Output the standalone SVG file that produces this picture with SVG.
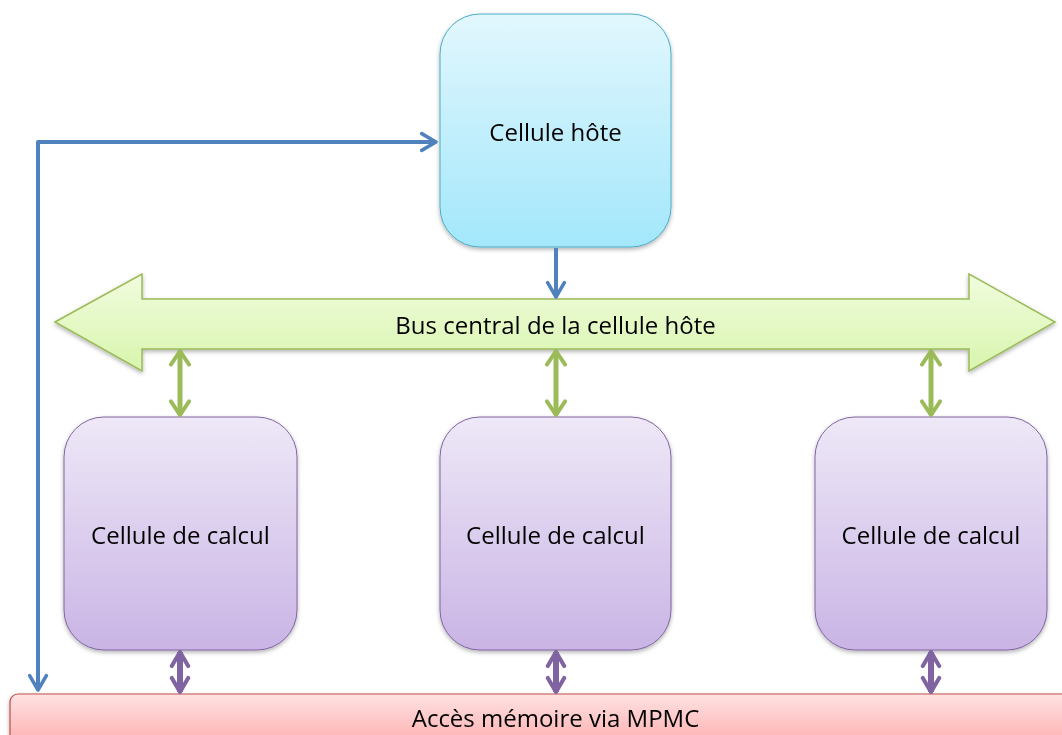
<svg xmlns="http://www.w3.org/2000/svg" width="1062" height="735" viewBox="0 0 1062 735">
<style>
text{font-family:"Open Sans","Liberation Sans",sans-serif;font-size:24px;fill:#000;text-anchor:middle;dominant-baseline:central}
.blue{stroke:#4f81bd;stroke-width:4;fill:none}
.green{stroke:#9bbb59;stroke-width:5;fill:none}
.purple{stroke:#8064a2;stroke-width:6;fill:none}
</style>
<defs>
<linearGradient id="gHost" x1="0" y1="0" x2="0" y2="1"><stop offset="0" stop-color="#e2f7fd"/><stop offset="1" stop-color="#a3e7fb"/></linearGradient>
<linearGradient id="gCalc" x1="0" y1="0" x2="0" y2="1"><stop offset="0" stop-color="#eee8f7"/><stop offset="1" stop-color="#c9b4e5"/></linearGradient>
<linearGradient id="gBus" x1="0" y1="0" x2="0" y2="1"><stop offset="0" stop-color="#f1fcde"/><stop offset="1" stop-color="#d8f5ad"/></linearGradient>
<linearGradient id="gMem" x1="0" y1="0" x2="0" y2="1"><stop offset="0" stop-color="#fee2e2"/><stop offset="1" stop-color="#fda6a6"/></linearGradient>
<filter id="sh" x="-10%" y="-10%" width="120%" height="130%"><feDropShadow dx="0" dy="2" stdDeviation="2" flood-color="#000" flood-opacity="0.3"/></filter>
<marker id="mb" viewBox="0 0 10 10" refX="9" refY="5" markerWidth="5.5" markerHeight="5.5" orient="auto-start-reverse" markerUnits="strokeWidth"><polyline points="2.5,1.2 9,5 2.5,8.8" fill="none" stroke="#4f81bd" stroke-width="1.6" stroke-linecap="round" stroke-linejoin="round"/></marker>
<marker id="mg" viewBox="0 0 10 10" refX="9" refY="5" markerWidth="4.5" markerHeight="4.5" orient="auto-start-reverse" markerUnits="strokeWidth"><polyline points="3,1 9,5 3,9" fill="none" stroke="#9bbb59" stroke-width="1.8" stroke-linecap="round" stroke-linejoin="round"/></marker>
<marker id="mp" viewBox="0 0 10 10" refX="9" refY="5" markerWidth="3.6" markerHeight="3.6" orient="auto-start-reverse" markerUnits="strokeWidth"><polyline points="2.5,1.2 9,5 2.5,8.8" fill="none" stroke="#8064a2" stroke-width="1.9" stroke-linecap="round" stroke-linejoin="round"/></marker>
</defs>
<g id="host" filter="url(#sh)">
<rect x="440" y="14" width="231" height="233" rx="40" fill="url(#gHost)" stroke="#4bacc6" stroke-width="1"/>
<text x="555.5" y="131">Cellule hôte</text>
</g>
<g id="bus" filter="url(#sh)">
<polygon points="55,322 142,274 142,299 969,299 969,274 1055,322 969,371 969,349 142,349 142,371" fill="url(#gBus)" stroke="#9bbb59" stroke-width="1.5" stroke-linejoin="miter"/>
<text x="555.5" y="324">Bus central de la cellule hôte</text>
</g>
<g id="calc1" filter="url(#sh)">
<rect x="64" y="417" width="233" height="233" rx="40" fill="url(#gCalc)" stroke="#8064a2" stroke-width="1"/>
<text x="180.5" y="534">Cellule de calcul</text>
</g>
<g id="calc2" filter="url(#sh)">
<rect x="440" y="417" width="231" height="233" rx="40" fill="url(#gCalc)" stroke="#8064a2" stroke-width="1"/>
<text x="555.5" y="534">Cellule de calcul</text>
</g>
<g id="calc3" filter="url(#sh)">
<rect x="815" y="417" width="232" height="233" rx="40" fill="url(#gCalc)" stroke="#8064a2" stroke-width="1"/>
<text x="931" y="534">Cellule de calcul</text>
</g>
<g id="mem" filter="url(#sh)">
<rect x="10" y="694" width="1070" height="60" rx="8" fill="url(#gMem)" stroke="#c0504d" stroke-width="1.2"/>
<text x="555.5" y="717">Accès mémoire via MPMC</text>
</g>
<g id="connectors">
<polyline class="blue" points="38,690 38,142 436,142" marker-start="url(#mb)" marker-end="url(#mb)" stroke-linejoin="round"/>
<line class="blue" x1="556" y1="248" x2="556" y2="297" marker-end="url(#mb)"/>
<line class="green" x1="180" y1="351" x2="180" y2="415" marker-start="url(#mg)" marker-end="url(#mg)"/>
<line class="green" x1="556" y1="351" x2="556" y2="415" marker-start="url(#mg)" marker-end="url(#mg)"/>
<line class="green" x1="931" y1="351" x2="931" y2="415" marker-start="url(#mg)" marker-end="url(#mg)"/>
<line class="purple" x1="180" y1="652" x2="180" y2="692" marker-start="url(#mp)" marker-end="url(#mp)"/>
<line class="purple" x1="556" y1="652" x2="556" y2="692" marker-start="url(#mp)" marker-end="url(#mp)"/>
<line class="purple" x1="931" y1="652" x2="931" y2="692" marker-start="url(#mp)" marker-end="url(#mp)"/>
</g>
</svg>
